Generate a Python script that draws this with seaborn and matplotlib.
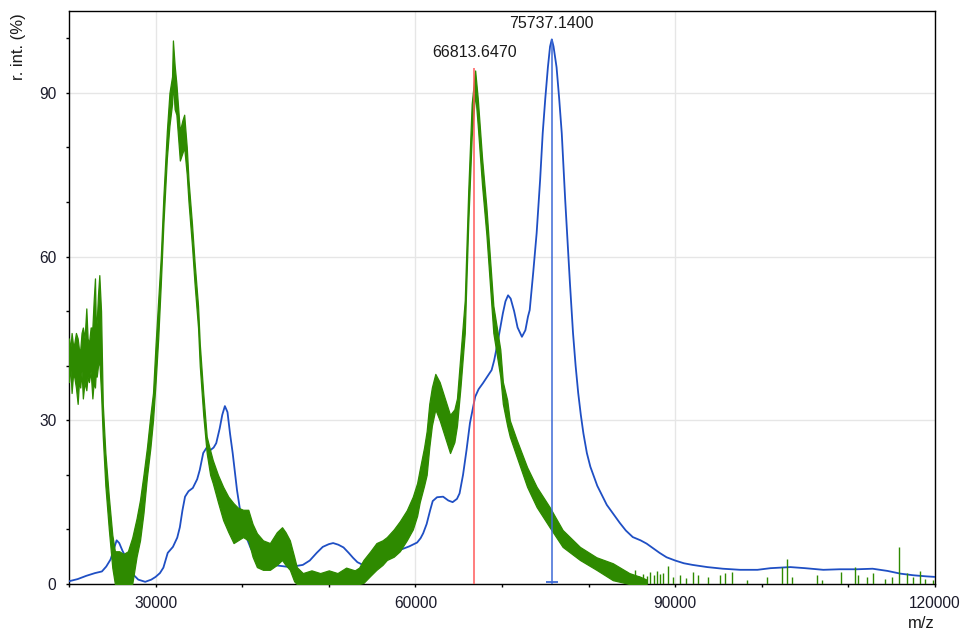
import matplotlib
matplotlib.use("Agg")
import matplotlib.pyplot as plt
import pandas as pd
import seaborn as sns
from matplotlib.ticker import MultipleLocator

# Blue spectrum (smooth trace)
blue_mz = [20000, 21000, 22000, 23000, 23800, 24300, 24800, 25200, 25500, 25800,
           26200, 26600, 27000, 27500, 28000, 28800, 29500, 30000, 30500, 30900,
           31400, 32000, 32500, 32800, 33100, 33400, 33800, 34300, 34800, 35100,
           35500, 35900, 36300, 36700, 37000, 37400, 37700, 38000, 38300, 38600,
           38900, 39200, 39400, 39700, 40000, 40500, 41000, 41500, 42200, 43000,
           44000, 45500, 47000, 47800, 48600, 49300, 50000, 50500, 51100, 51700,
           52300, 52800, 53300, 53800, 54500, 55500, 56700, 57500, 58500, 59300,
           60200, 60600, 60900, 61300, 61700, 62000, 62500, 63200, 63800, 64300,
           64800, 65100, 65500, 65900, 66300, 66900, 67300, 67800, 68300, 68800,
           69100, 69400, 69800, 70100, 70400, 70700, 71000, 71400, 71800, 72300,
           72700, 73000, 73200, 73600, 74000, 74400, 74700, 75000, 75300, 75550,
           75750, 75950, 76300, 76600, 76900, 77300, 77600, 77850, 78200, 78500,
           78800, 79100, 79400, 79800, 80200, 81000, 82100, 83000, 83600, 84300,
           85100, 86000, 86700, 87400, 88200, 89000, 90000, 91000, 92000, 93700,
           95500, 97500, 99500, 101000, 103300, 105000, 107100, 109000, 111000, 112800,
           114500, 116000, 117500, 119000, 120000]
blue_int = [0.5, 0.9, 1.5, 2.0, 2.3, 3.2, 4.5, 6.5, 8.0, 7.5,
            6.0, 4.8, 3.0, 1.6, 0.8, 0.4, 0.8, 1.3, 2.0, 3.0,
            5.7, 6.8, 8.5, 10.4, 13.5, 16.0, 17.0, 17.6, 19.2, 20.9,
            24.0, 25.0, 24.5, 25.0, 25.8, 28.5, 31.0, 32.6, 31.5, 27.5,
            24.0, 20.0, 17.2, 14.1, 11.5, 8.5, 6.5, 5.2, 4.2, 3.8,
            3.4, 3.1, 3.5, 4.3, 5.7, 6.8, 7.3, 7.5, 7.2, 6.7,
            5.7, 4.8, 4.0, 3.6, 3.8, 4.6, 5.3, 5.8, 6.4, 6.9,
            7.6, 8.4, 9.3, 11.0, 13.5, 15.2, 15.9, 16.0, 15.3, 15.0,
            15.6, 16.6, 20.0, 24.5, 29.5, 34.3, 35.7, 36.8, 38.0, 39.2,
            41.0, 43.4, 47.0, 49.6, 51.8, 52.9, 52.3, 50.0, 47.0, 45.3,
            46.5, 49.0, 50.2, 57.0, 64.3, 74.0, 82.6, 89.0, 94.7, 98.5,
            99.8, 98.5, 94.7, 89.0, 82.6, 70.3, 62.0, 55.0, 46.0, 40.0,
            35.0, 31.0, 27.6, 24.0, 21.5, 18.0, 14.5, 12.5, 11.2, 9.8,
            8.6, 8.0, 7.4, 6.6, 5.7, 4.9, 4.3, 3.8, 3.5, 3.1,
            2.8, 2.6, 2.6, 2.9, 3.1, 2.9, 2.6, 2.7, 2.7, 2.8,
            2.4, 1.9, 1.6, 1.4, 1.3]

# Green spectrum (noisy trace): lower and upper edge of the noise band
green_mz = [20000, 20150, 20300, 20450, 20600, 20800, 21000, 21150, 21300, 21450,
            21600, 21800, 22000, 22150, 22300, 22500, 22700, 22850, 23000, 23100,
            23200, 23350, 23500, 23700, 23900, 24200, 24600, 25000, 25300, 25800,
            26300, 26800, 27300, 27800, 28200, 28600, 29000, 29400, 29700, 30000,
            30300, 30600, 30900, 31300, 31600, 31900, 32000, 32200, 32400, 32800,
            33100, 33300, 33600, 33800, 34200, 34500, 34900, 35100, 35500, 35900,
            36300, 36600, 37200, 37800, 38400, 39000, 39500, 40100, 40700, 41200,
            41700, 42400, 43200, 44000, 44600, 45000, 45500, 46000, 46300, 47000,
            48000, 49000, 50000, 51000, 52000, 53000, 53500, 54000, 54800, 55500,
            56200, 56700, 57500, 58200, 59000, 59700, 60200, 60500, 61000, 61300,
            61600, 61900, 62300, 62800, 63400, 64000, 64500, 64800, 65200, 65700,
            66100, 66500, 66900, 67200, 67700, 68200, 68600, 69000, 69400, 69800,
            70100, 70600, 70900, 71700, 72900, 74000, 75500, 77000, 79000, 80900,
            82800, 84700, 86000, 86700]
green_lo = [37, 40, 35, 38, 38, 36, 33, 37, 36, 39,
            34, 37, 35.5, 38, 37, 39, 34, 37, 36, 39,
            38, 40, 41, 35, 27, 18, 10, 3, 0, 0,
            0, 0, 0, 5, 8, 13, 19.6, 25, 30, 37,
            45, 55, 66, 78, 84, 88, 92, 87, 86, 77.6,
            79, 80, 75, 70, 62, 55, 47, 40, 31, 24,
            20, 18.5, 15, 11.7, 9.5, 7.5, 8, 8.6, 8, 5,
            3.1, 2.6, 2.6, 3.5, 4.4, 3.5, 2.6, 0.5, 0, 0,
            0, 0, 0, 0, 0, 0, 0, 0.2, 1.5, 2.6,
            3.5, 4.4, 5, 6, 8, 10, 12.5, 15, 18, 20,
            25, 29, 32, 30, 27, 24, 26, 29, 36, 46,
            66, 82, 90, 84, 73, 64, 55, 46, 42, 38,
            33, 29, 27, 23.3, 17.8, 14.1, 10.4, 6.8, 4.4, 2.6,
            0.7, 0, 0, 0]
green_hi = [45, 43, 46, 44, 44, 46, 45, 43, 43, 46,
            47, 45, 50.5, 45, 44, 47, 47, 52, 56, 47,
            48, 53, 56.6, 50, 33, 24, 16, 9, 6, 6,
            5.5, 6, 8.5, 12, 15.4, 20, 25, 31, 35, 44,
            52, 60, 71, 83, 90, 93, 99.6, 95, 91.7, 83,
            85, 86, 80, 74, 66, 59, 51, 44, 35, 27,
            24.5, 22.7, 20, 17.8, 16, 14.8, 14, 13.6, 13.6, 11,
            9.3, 8, 7.5, 9.5, 10.4, 9.5, 8, 5, 3.1, 2,
            2.5, 2, 2.5, 2, 3, 2.5, 3, 4.4, 6, 7.5,
            8, 8.6, 10, 11.5, 13.5, 16, 18.5, 21, 25, 28,
            33, 36, 38.5, 37, 34, 31, 32, 34, 42, 52,
            72, 88, 94.1, 89, 78, 69, 60, 51, 47, 43,
            37, 33.7, 30, 26.4, 21.4, 17.8, 14.1, 9.9, 6.8, 4.9,
            3.8, 2, 1.3, 0.8]

# Isolated noise spikes of the green trace above 84000
spike_mz = [84300, 84900, 85400, 85800, 86320, 86700, 87090, 87500, 87860, 88300,
            88630, 89200, 89700, 90550, 91300, 92090, 92670, 93820, 95170, 95750,
            96520, 98250, 100560, 102300, 102870, 103450, 106330, 106910, 109110, 110760,
            111140, 112110, 112880, 114230, 115000, 115880, 116730, 117500, 118270, 118850,
            119800]
spike_int = [2.4, 1.8, 2.6, 1.5, 1.9, 1.5, 2.2, 1.6, 2.4, 1.8,
             2.0, 3.3, 1.2, 1.6, 1.1, 2.2, 1.6, 1.3, 1.6, 2.0,
             2.2, 0.7, 1.3, 3.2, 4.5, 1.3, 1.6, 0.7, 2.2, 3.2,
             1.6, 1.3, 2.0, 1.0, 1.3, 6.8, 2.0, 1.3, 2.4, 1.0,
             0.7]

# Peak markers
peak_mz = [66813.6470, 75737.1400]
peak_top = [94.5, 99.8]
peak_labels = ["66813.6470", "75737.1400"]

BLUE = "#1f4fc4"
BLUE_MARK = "#3d6ad6"
GREEN = "#2e8a00"
RED = "#ff5a5a"

sns.set_style("ticks")
plt.rcParams["font.family"] = ["Liberation Sans", "DejaVu Sans"]

fig = plt.figure(figsize=(9.63, 6.31), dpi=100)
ax = fig.add_axes([69 / 963, 47 / 631, 866 / 963, 573 / 631])

blue = pd.DataFrame({"mz": blue_mz, "intensity": blue_int})
sns.lineplot(data=blue, x="mz", y="intensity", color=BLUE, linewidth=1.3,
             estimator=None, sort=False, ax=ax, zorder=3)

ax.fill_between(green_mz, green_lo, green_hi, facecolor=GREEN, edgecolor=GREEN,
                linewidth=0.9, zorder=4)
ax.vlines(spike_mz, 0, spike_int, color=GREEN, linewidth=1.0, zorder=4)

# Red marker for the green trace, blue marker with bottom cap for the blue trace
ax.vlines(peak_mz[0], 0, peak_top[0], color=RED, linewidth=1.1, zorder=6)
ax.vlines(peak_mz[1], 0, peak_top[1], color=BLUE_MARK, linewidth=1.1, zorder=6)
ax.plot([peak_mz[1]], [0.3], marker="_", markersize=9, color=BLUE_MARK,
        markeredgewidth=1.3, zorder=6, clip_on=False)
for mz, top, label in zip(peak_mz, peak_top, peak_labels):
    ax.text(mz, top + 1.6, label, ha="center", va="bottom", fontsize=11.5, color="#1a1a1a")

ax.set_xlim(20000, 120000)
ax.set_ylim(0, 105)
ax.xaxis.set_major_locator(MultipleLocator(30000))
ax.xaxis.set_minor_locator(MultipleLocator(10000))
ax.yaxis.set_major_locator(MultipleLocator(30))
ax.yaxis.set_minor_locator(MultipleLocator(10))
ax.grid(True, which="major", color="#e6e6e6", linewidth=1.0, zorder=0)
ax.set_axisbelow(True)
ax.tick_params(which="both", direction="out", length=2.5, width=1.0, color="black")
ax.tick_params(axis="x", which="major", pad=6, labelsize=11.2, labelcolor="#1a1a2a")
ax.tick_params(axis="y", which="major", pad=6.5, labelsize=11.2, labelcolor="#1a1a2a")
for side in ["left", "right", "top", "bottom"]:
    ax.spines[side].set_visible(True)
    ax.spines[side].set_color("black")
    ax.spines[side].set_linewidth(1.0)
ax.set_xlabel("")
ax.set_ylabel("")

fig.text(18 / 963, 1 - 13 / 631, "r. int. (%)", rotation=90, ha="center", va="top",
         fontsize=12, color="#1a1a1a")
fig.text(921 / 963, 1 - 623 / 631, "m/z", ha="center", va="center", fontsize=12,
         color="#1a1a1a")

fig.savefig("out.png", dpi=100)
